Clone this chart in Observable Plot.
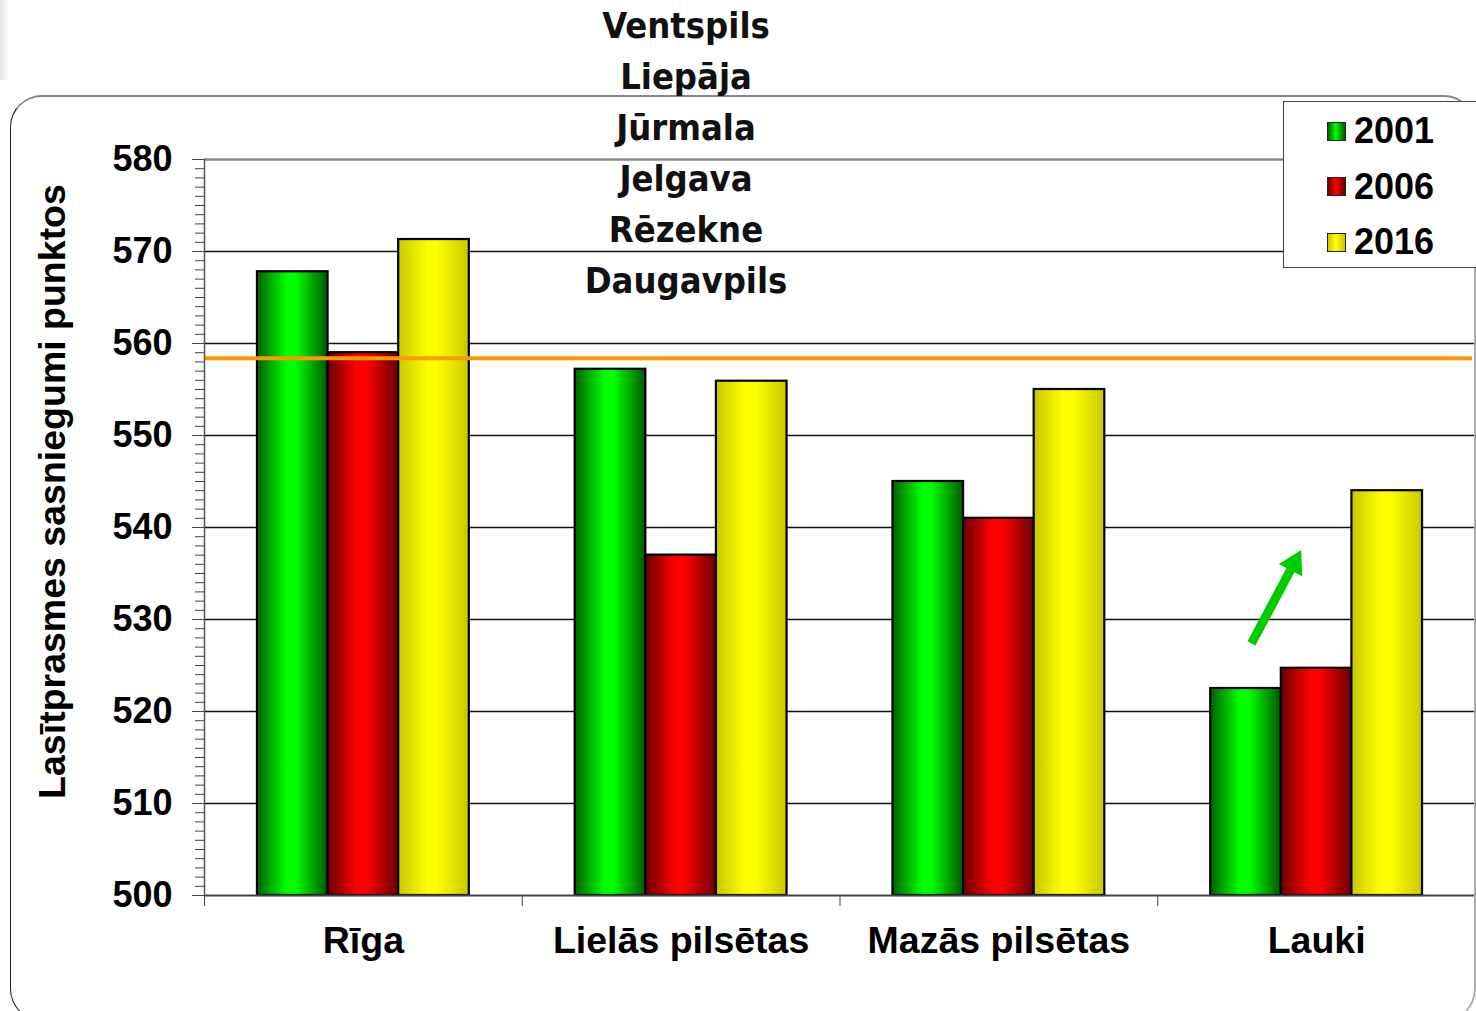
<!DOCTYPE html>
<html>
<head>
<meta charset="utf-8">
<script src="https://cdn.jsdelivr.net/npm/d3@7"></script>
<script src="https://cdn.jsdelivr.net/npm/@observablehq/plot@0.6"></script>
<style>
  body { margin: 0; background: #fff; width: 1476px; height: 1011px; overflow: hidden; position: relative;
         font-family: "Liberation Sans", Arial, sans-serif; }
  #chart { position: absolute; left: 0; top: 0; z-index: 1; }
  #frame { position: absolute; left: 10px; top: 95px; width: 1466px; height: 926px; box-sizing: border-box;
           border-left: 1.5px solid #222; border-top: 2.5px solid #888; border-right: 2px solid #aaa;
           border-bottom: 1.5px solid #222;
           border-radius: 32px; z-index: 2; pointer-events: none; }
  #shadow { position: absolute; left: 0; top: 0; width: 9px; height: 80px; z-index: 0;
            background: linear-gradient(to right, rgba(200,200,200,0.45), rgba(255,255,255,0)); }
  #cities { position: absolute; left: 436px; width: 500px; top: 0; text-align: center; z-index: 3;
            font-family: "DejaVu Sans Condensed", "DejaVu Sans", sans-serif; font-stretch: condensed;
            font-weight: bold; font-size: 36px; line-height: 51px; color: #111; }
  #legend { position: absolute; left: 1283px; top: 101px; width: 200px; height: 167px; box-sizing: border-box;
            border: 1.5px solid #444; background: #fff; z-index: 4; }
  .lrow { position: absolute; left: 43px; height: 40px; display: flex; align-items: center;
          font-weight: bold; font-size: 36px; color: #000; }
  .sw { width: 19px; height: 19px; border: 1.5px solid #222; margin-right: 8px; box-sizing: border-box; }
</style>
</head>
<body>
<div id="shadow"></div>
<div id="chart"></div>
<div id="frame"></div>
<div id="cities"></div>
<div id="legend"></div>
<script>
// ---- data ----
const categories = ["Rīga", "Lielās pilsētas", "Mazās pilsētas", "Lauki"];
const years = ["2001", "2006", "2016"];
const v2001 = [567.8, 557.2, 545.0, 522.5];
const v2006 = [559.0, 537.0, 541.0, 524.7];
const v2016 = [571.3, 555.9, 555.0, 544.0];
const average = [558.4];
const cities = ["Ventspils", "Liepāja", "Jūrmala", "Jelgava", "Rēzekne", "Daugavpils"];
const yMajorTicks = [500, 510, 520, 530, 540, 550, 560, 570, 580];
const yTitle = "Lasītprasmes sasniegumi punktos";
// arrow annotation (category, position inside band, from/to values)
const arrowCategory = ["Lauki"];
const arrowFromTo = [[0.295, 527.4], [0.418, 535.4]];
const arrowHeadAt = [[0.429, 536.1]];

// ---- colours ----
const gradients = {
  "2001": ["#006000", "#00ff00", "#005800"],
  "2006": ["#6a0000", "#ff0000", "#6a0000"],
  "2016": ["#c8c800", "#ffff00", "#c8c800"]
};

// ---- table ----
const series = {"2001": v2001, "2006": v2006, "2016": v2016};
const table = [];
years.forEach((yr, j) => categories.forEach((c, i) => table.push({cat: c, ci: i, year: yr, yj: j, value: series[yr][i]})));

const pad = 1 / 6, bw = 2 / 9;
const W = 1476, H = 1011;

const barMarks = years.map(yr => Plot.rectY(table.filter(d => d.year === yr), {
  x1: d => d.ci + pad + d.yj * bw,
  x2: d => d.ci + pad + (d.yj + 1) * bw,
  y1: 500,
  y2: "value",
  fill: `url(#grad${yr})`,
  stroke: "#000",
  strokeWidth: 2.2
}));

const ai = categories.indexOf(arrowCategory[0]);

const chart = Plot.plot({
  width: W,
  height: H,
  marginLeft: 204,
  marginRight: 1,
  marginTop: 159,
  marginBottom: 116,
  style: {background: "transparent", fontFamily: "'Liberation Sans', Arial, sans-serif", color: "#000"},
  x: {type: "linear", domain: [0, categories.length], axis: null},
  y: {domain: [500, 580], axis: null},
  marks: [
    Plot.ruleY(yMajorTicks.filter(v => v > 500 && v < 580), {stroke: "#111", strokeWidth: 1.5}),
    Plot.ruleY([580], {stroke: "#888", strokeWidth: 2.5}),
    ...barMarks,
    Plot.ruleY(average, {stroke: "#ff9900", strokeWidth: 4, insetRight: 3}),
    Plot.ruleY([500], {stroke: "#444", strokeWidth: 2}),
    Plot.ruleX([0], {stroke: "#555", strokeWidth: 1.5}),
    // y axis
    Plot.axisY({ticks: d3.range(500, 581, 1), tickSize: 9, tickFormat: () => "", stroke: "#444", label: null}),
    Plot.axisY({ticks: yMajorTicks, tickSize: 12, tickPadding: 20, fontSize: 36, fontWeight: "bold", tickFormat: d => String(d), stroke: "#444", label: null}),
    Plot.text([yTitle], {frameAnchor: "left", textAnchor: "middle", rotate: -90, dx: -152, dy: -36, fontSize: 37.5, fontWeight: "bold", fill: "#000"}),
    // x axis
    Plot.axisX({ticks: d3.range(0, categories.length + 1), tickSize: 11, tickFormat: () => "", stroke: "#444", label: null}),
    Plot.axisX({ticks: categories.map((c, i) => i + 0.5), tickSize: 0, tickPadding: 31, fontSize: 37.5, fontWeight: "bold",
                tickFormat: d => categories[Math.floor(d)], label: null}),
    // arrow annotation
    Plot.link([0], {x1: () => ai + arrowFromTo[0][0], y1: () => arrowFromTo[0][1],
                    x2: () => ai + arrowFromTo[1][0], y2: () => arrowFromTo[1][1],
                    stroke: "#00cc00", strokeWidth: 9}),
    Plot.dot(arrowHeadAt, {x: d => ai + d[0], y: d => d[1], symbol: "triangle2", r: 12.6, rotate: 28,
                           fill: "#00cc00", stroke: "none"})
  ]
});

// gradient definitions for bar fills
const svg = d3.select(chart);
const defs = svg.insert("defs", ":first-child");
for (const yr of years) {
  const [a, b, c] = gradients[yr];
  const g = defs.append("linearGradient").attr("id", `grad${yr}`).attr("x1", "0").attr("x2", "1").attr("y1", "0").attr("y2", "0");
  g.append("stop").attr("offset", "0").attr("stop-color", a);
  g.append("stop").attr("offset", "0.42").attr("stop-color", b);
  g.append("stop").attr("offset", "0.55").attr("stop-color", b);
  g.append("stop").attr("offset", "1").attr("stop-color", c);
}
document.getElementById("chart").appendChild(chart);

// city list
const cdiv = document.getElementById("cities");
cities.forEach(c => { const d = document.createElement("div"); d.textContent = c; cdiv.appendChild(d); });

// legend
const leg = document.getElementById("legend");
years.forEach((yr, j) => {
  const row = document.createElement("div");
  row.className = "lrow";
  row.style.top = (9 + j * 55.5) + "px";
  const sw = document.createElement("div");
  sw.className = "sw";
  sw.style.background = `linear-gradient(to right, ${gradients[yr][0]}, ${gradients[yr][1]} 45%, ${gradients[yr][2]})`;
  const t = document.createElement("span");
  t.textContent = yr;
  row.appendChild(sw); row.appendChild(t);
  leg.appendChild(row);
});
</script>
</body>
</html>
